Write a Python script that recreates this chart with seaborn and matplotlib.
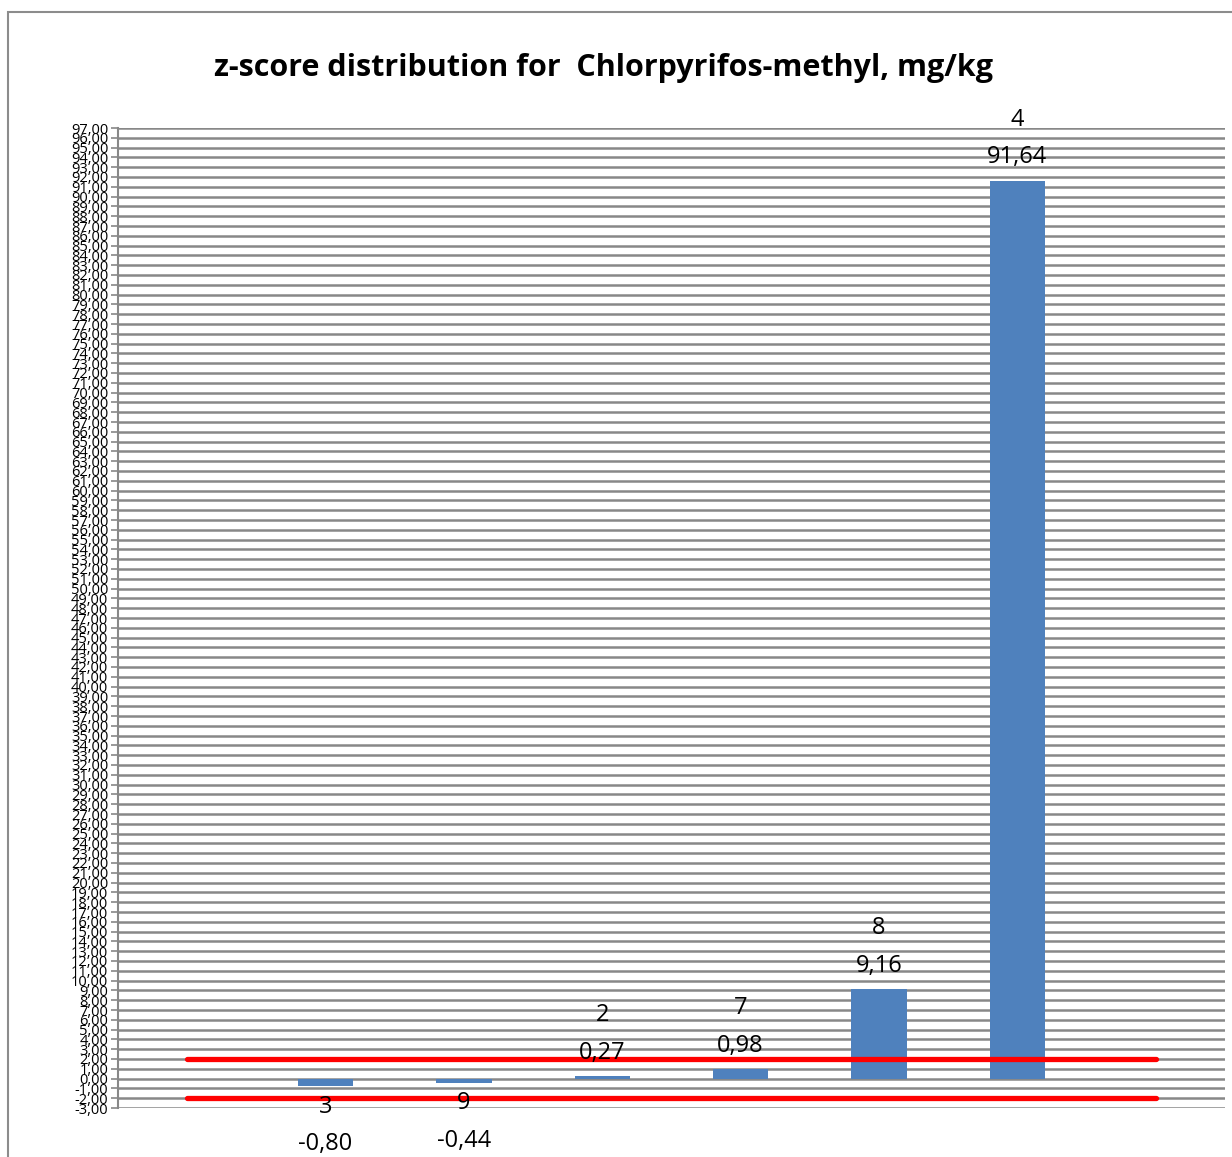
import numpy as np
import pandas as pd
import matplotlib
matplotlib.use("Agg")
import matplotlib.pyplot as plt
import seaborn as sns
from matplotlib.patches import Rectangle

# data
participants = ["3", "9", "2", "7", "8", "4"]
zscores = [-0.80, -0.44, 0.27, 0.98, 9.16, 91.64]
limit_upper = 2.0
limit_lower = -2.0
y_min, y_max, y_step = -3, 97, 1
title = "z-score distribution for  Chlorpyrifos-methyl, mg/kg"

sns.set_style("white")
plt.rcParams['font.family'] = ['Open Sans', 'DejaVu Sans']
plt.rcParams['text.color'] = 'black'
plt.rcParams['ytick.color'] = 'black'

df = pd.DataFrame({'participant': participants, 'z': zscores})
order = ["_l"] + participants + ["_r"]

fig = plt.figure(figsize=(12.32, 11.57), dpi=100)
ax = fig.add_axes([118 / 1232, 1 - 1108 / 1157, 1107 / 1232, 980 / 1157])

sns.barplot(data=df, x='participant', y='z', order=order, color='#4f81bd',
            width=0.4, saturation=1, linewidth=0, edgecolor='none',
            ax=ax, zorder=3)

# tolerance limits |z| = 2
n = len(order)
for lim in (limit_upper, limit_lower):
    ax.plot([0, n - 1], [lim, lim], color='red', lw=3.8,
            solid_capstyle='round', zorder=4)

# data labels
for i, (p, v) in enumerate(zip(participants, zscores)):
    txt = f"{p}\n{v:.2f}".replace('.', ',')
    if v >= 0:
        ax.annotate(txt, (i + 1, v), xytext=(0, 8), textcoords='offset points',
                    ha='center', va='bottom', fontsize=17, linespacing=1.75,
                    zorder=5)
    else:
        ax.annotate(txt, (i + 1, v), xytext=(0, -6), textcoords='offset points',
                    ha='center', va='top', fontsize=17, linespacing=1.75,
                    zorder=5)

ax.set_ylim(y_min, y_max)
ax.set_xlim(-0.5, n - 0.5)
yt = np.arange(y_min, y_max + y_step, y_step)
ax.set_yticks(yt)
ax.set_yticklabels([f"{t:.2f}".replace('.', ',') for t in yt], fontsize=10.5)
ax.tick_params(axis='y', direction='out', length=5, width=1.2, color='#888888',
               labelcolor='black', pad=2, left=True)
ax.set_xticks([])
ax.set_xlabel("")
ax.set_ylabel("")
ax.yaxis.grid(True, color='#888888', lw=1.8, zorder=0)
ax.set_axisbelow(True)
for s in ['top', 'right', 'bottom']:
    ax.spines[s].set_visible(False)
ax.spines['left'].set_color('#888888')
ax.spines['left'].set_linewidth(1.5)

fig.text(603 / 1232, 1 - 68 / 1157, title, ha='center', va='center',
         fontsize=22, fontweight='bold', color='black')

# chart area border
fig.patches.append(Rectangle((8 / 1232, -0.05), 1.2, 1 - 12 / 1157 + 0.05,
                             transform=fig.transFigure, fill=False,
                             edgecolor='#8c8c8c', lw=1.5))

fig.savefig("out.png", dpi=100)
